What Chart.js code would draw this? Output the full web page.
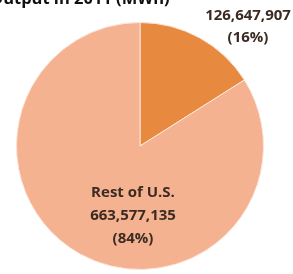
<!DOCTYPE html>
<html>
<head>
<meta charset="utf-8">
<script src="https://cdn.jsdelivr.net/npm/chart.js@4/dist/chart.umd.min.js"></script>
<style>
  html, body { margin: 0; padding: 0; background: #fff; overflow: hidden; }
  #wrap { position: relative; width: 293px; height: 274px; }
  #title {
    position: absolute; left: -10px; top: -14px;
    font: bold 16.5px "Open Sans", sans-serif;
    color: #111; white-space: nowrap;
  }
</style>
</head>
<body>
<div id="wrap">
  <canvas id="pie" width="293" height="274"></canvas>
  <div id="title">Output in 2011 (MWh)</div>
</div>
<script>
// slices, clockwise from 12 o'clock
const labels  = ["Selected", "Rest of U.S."];
const values  = [126647907, 663577135];
const shares  = ["16%", "84%"];
const colours = ["#e78a3f", "#f5b291"];

const fmt = (n) => n.toLocaleString("en-US");

// text labels for each slice
const sliceLabels = {
    id: "sliceLabels",
    afterDatasetsDraw(chart) {
        const { ctx } = chart;
        const meta = chart.getDatasetMeta(0);
        ctx.save();
        ctx.fillStyle = "#3b2b22";
        ctx.font = "bold 15px 'Open Sans', sans-serif";
        ctx.textAlign = "center";
        ctx.textBaseline = "middle";

        // small slice: label outside, top right
        const p0 = meta.data[0].getProps(["x", "y"], true);
        const lx = p0.x + 108, ly = p0.y - 130;
        ctx.fillText(fmt(values[0]), lx, ly);
        ctx.fillText("(" + shares[0] + ")", lx, ly + 22);

        // big slice: label inside, below centre
        const p1 = meta.data[1].getProps(["x", "y"], true);
        const bx = p1.x - 7;
        ctx.fillText(labels[1], bx, p1.y + 47);
        ctx.fillText(fmt(values[1]), bx, p1.y + 70);
        ctx.fillText("(" + shares[1] + ")", bx, p1.y + 93);
        ctx.restore();
    }
};

new Chart(document.getElementById("pie"), {
    type: "pie",
    data: {
        labels: labels,
        datasets: [{
            data: values,
            backgroundColor: colours,
            borderColor: "#fbe6dc",
            borderWidth: 1
        }]
    },
    options: {
        responsive: false,
        animation: false,
        layout: { padding: { left: 16, right: 29, top: 22, bottom: 4 } },
        plugins: {
            legend: { display: false },
            tooltip: { enabled: false }
        }
    },
    plugins: [sliceLabels]
});
</script>
</body>
</html>
